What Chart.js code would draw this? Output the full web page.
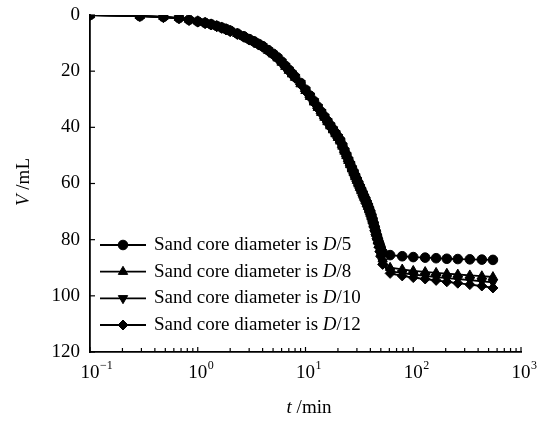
<!DOCTYPE html>
<html>
<head>
  <meta charset="UTF-8">
  <title>V vs t</title>
  <script src="https://cdn.jsdelivr.net/npm/chart.js"></script>
  <style>
    body { margin: 0; background: #fff; }
    #wrap { width: 543px; height: 424px; position: relative; }
  </style>
</head>
<body>
  <div id="wrap"><canvas id="chart"></canvas></div>
  <script>
    // tiempos de medida (min)
    const timeMin = [0.1, 0.29, 0.48, 0.67, 0.83, 1.0, 1.17, 1.33, 1.5, 1.67, 1.83, 2.0, 2.33, 2.67, 3.0, 3.33, 3.67, 4.0, 4.5, 5.0, 5.5, 6.0, 6.5, 7.0, 7.5, 8.0,
      9, 10, 11, 12, 13, 14, 15, 16, 17, 18, 19, 20, 21, 22, 23, 24, 25, 26, 27, 28, 29, 30, 31, 32, 33, 34, 35, 36, 37, 38, 39, 40, 41, 42, 43, 44, 45, 46, 47, 48, 49, 50, 52,
      61, 79, 100, 129, 163, 205, 259, 335, 433, 549];

    // volumen (mL) para cada diametro
    const volD5 = [0, 0.4, 0.7, 1.1, 1.7, 2.3, 2.8, 3.3, 3.9, 4.5, 5.0, 5.6, 6.6, 7.6, 8.6, 9.4, 10.3, 11.1, 12.5, 13.8, 15.1, 16.6, 18.1, 19.5, 20.8, 22.0,
      24.2, 26.6, 28.7, 30.7, 32.7, 34.5, 36.2, 37.8, 39.3, 40.7, 42.1, 43.4, 44.6, 46.4, 48.2, 49.8, 51.5, 53.0, 54.5, 55.9, 57.3, 58.6, 59.9, 61.1, 62.3, 63.4, 64.6, 65.6, 66.7, 67.8, 69.0, 70.2, 71.5, 72.9, 74.3, 75.7, 77.1, 78.5, 79.8, 81.0, 82.0, 83.0, 84.5,
      85.5, 85.9, 86.2, 86.4, 86.6, 86.8, 86.9, 87.0, 87.1, 87.2];
    const volD8 = [0, 0.3, 0.6, 1.0, 1.6, 2.2, 2.7, 3.3, 3.9, 4.4, 5.0, 5.6, 6.7, 7.7, 8.7, 9.6, 10.5, 11.3, 12.7, 14.0, 15.4, 16.9, 18.4, 19.8, 21.1, 22.3,
      24.6, 27.0, 29.1, 31.1, 33.0, 34.8, 36.5, 38.1, 39.6, 41.0, 42.4, 43.7, 45.0, 46.8, 48.6, 50.2, 51.9, 53.4, 54.9, 56.3, 57.7, 59.0, 60.3, 61.5, 62.7, 63.9, 65.0, 66.1, 67.2, 68.3, 69.5, 70.7, 72.0, 73.4, 74.8, 76.3, 77.8, 79.2, 80.6, 81.9, 83.3, 84.7, 87.0,
      90.0, 90.6, 91.1, 91.5, 91.8, 92.1, 92.4, 92.7, 93.0, 93.3];
    const volD10 = [0, 0.4, 0.8, 1.2, 1.8, 2.4, 2.9, 3.4, 4.0, 4.6, 5.1, 5.7, 6.7, 7.7, 8.6, 9.5, 10.4, 11.2, 12.6, 13.9, 15.2, 16.7, 18.2, 19.6, 20.9, 22.1,
      24.3, 26.7, 28.8, 30.8, 32.8, 34.6, 36.3, 37.9, 39.4, 40.8, 42.2, 43.5, 44.8, 46.6, 48.4, 50.0, 51.7, 53.2, 54.7, 56.1, 57.5, 58.8, 60.1, 61.3, 62.5, 63.7, 64.8, 65.9, 67.0, 68.1, 69.3, 70.5, 71.8, 73.2, 74.7, 76.2, 77.7, 79.2, 80.6, 82.0, 83.5, 85.0, 88.0,
      91.2, 91.9, 92.4, 92.9, 93.3, 93.7, 94.0, 94.4, 94.8, 95.2];
    const volD12 = [0, 0.4, 0.8, 1.2, 1.9, 2.5, 3.0, 3.5, 4.1, 4.7, 5.3, 5.9, 6.9, 7.9, 8.9, 9.8, 10.7, 11.5, 12.9, 14.2, 15.6, 17.1, 18.6, 20.0, 21.3, 22.5,
      24.8, 27.2, 29.3, 31.3, 33.3, 35.1, 36.8, 38.4, 39.9, 41.3, 42.7, 44.0, 45.3, 47.1, 48.9, 50.5, 52.2, 53.7, 55.2, 56.6, 58.0, 59.3, 60.6, 61.8, 63.0, 64.2, 65.3, 66.4, 67.5, 68.6, 69.8, 71.0, 72.3, 73.7, 75.2, 76.7, 78.2, 79.7, 81.2, 82.7, 84.3, 86.0, 88.8,
      92.0, 92.9, 93.5, 94.0, 94.5, 95.0, 95.5, 96.0, 96.5, 97.2];

    const legendNames = ["5", "8", "10", "12"];
    const xTickValues = [0.1, 1, 10, 100, 1000];
    const xTickExponents = ["\u22121", "0", "1", "2", "3"];
    const minorSteps = [2, 3, 4, 5, 6, 7, 8, 9];

    const serif = "'Liberation Serif', 'Times New Roman', serif";
    const fs = 19;
    const series = [volD5, volD8, volD10, volD12];
    const estilos = [
      { pointStyle: "circle", rotation: 0, radius: 4.8 },
      { pointStyle: "triangle", rotation: 0, radius: 5.4 },
      { pointStyle: "triangle", rotation: 180, radius: 5.4 },
      { pointStyle: "rectRot", rotation: 0, radius: 5 }
    ];

    const datasets = series.map((vals, k) => ({
      label: "Sand core diameter is D/" + legendNames[k],
      data: timeMin.map((t, i) => ({ x: t, y: vals[i] })),
      borderColor: "#000",
      backgroundColor: "#000",
      borderWidth: 1.8,
      pointStyle: estilos[k].pointStyle,
      rotation: estilos[k].rotation,
      pointRadius: estilos[k].radius,
      pointBorderWidth: 1,
      pointBackgroundColor: "#000",
      pointBorderColor: "#000",
      tension: 0
    }));

    function punto(ctx, est, x, y) {
      ctx.save();
      ctx.fillStyle = "#000";
      ctx.strokeStyle = "#000";
      ctx.lineWidth = 1;
      Chart.helpers.drawPoint(ctx, { pointStyle: est.pointStyle, rotation: est.rotation, radius: est.radius, borderWidth: 1 }, x, y);
      ctx.restore();
    }

    // etiquetas, marcas hacia dentro, titulos y leyenda
    const extras = {
      id: "extras",
      afterDraw(chart) {
        const ctx = chart.ctx;
        const xs = chart.scales.x, ys = chart.scales.y;
        const area = chart.chartArea;
        ctx.save();
        ctx.strokeStyle = "#000";
        ctx.lineWidth = 1.2;
        // marcas eje x
        xTickValues.forEach((v, i) => {
          const px = xs.getPixelForValue(v);
          ctx.beginPath(); ctx.moveTo(px, area.bottom); ctx.lineTo(px, area.bottom - 5); ctx.stroke();
          if (i < xTickValues.length - 1) {
            minorSteps.forEach(m => {
              const mx = xs.getPixelForValue(v * m);
              ctx.beginPath(); ctx.moveTo(mx, area.bottom); ctx.lineTo(mx, area.bottom - 4); ctx.stroke();
            });
          }
        });
        // marcas eje y
        ys.ticks.forEach(t => {
          const py = ys.getPixelForValue(t.value);
          ctx.beginPath(); ctx.moveTo(area.left, py); ctx.lineTo(area.left + 5, py); ctx.stroke();
        });
        // etiquetas eje x
        ctx.fillStyle = "#000";
        ctx.textBaseline = "middle";
        xTickValues.forEach((v, i) => {
          const px = xs.getPixelForValue(v);
          ctx.font = fs + "px " + serif;
          ctx.textAlign = "center";
          ctx.fillText("10", px, 373);
          const w = ctx.measureText("10").width;
          ctx.font = "12px " + serif;
          ctx.textAlign = "left";
          ctx.fillText(xTickExponents[i], px + w / 2 + 0.5, 366);
        });
        // titulo eje x
        ctx.font = "italic " + fs + "px " + serif;
        const tW = ctx.measureText("t").width;
        ctx.font = fs + "px " + serif;
        const restW = ctx.measureText(" /min").width;
        let sx = 309 - (tW + restW) / 2;
        ctx.textAlign = "left";
        ctx.font = "italic " + fs + "px " + serif;
        ctx.fillText("t", sx, 408);
        ctx.font = fs + "px " + serif;
        ctx.fillText(" /min", sx + tW, 408);
        // titulo eje y
        ctx.save();
        ctx.translate(24, 182);
        ctx.rotate(-Math.PI / 2);
        ctx.font = "italic " + fs + "px " + serif;
        const vW = ctx.measureText("V").width;
        ctx.font = fs + "px " + serif;
        const mlW = ctx.measureText(" /mL").width;
        sx = -(vW + mlW) / 2;
        ctx.font = "italic " + fs + "px " + serif;
        ctx.fillText("V", sx, 0);
        ctx.font = fs + "px " + serif;
        ctx.fillText(" /mL", sx + vW, 0);
        ctx.restore();
        // leyenda
        const rows = [245, 271.7, 298.3, 325];
        rows.forEach((ry, k) => {
          ctx.lineWidth = 1.8;
          ctx.beginPath(); ctx.moveTo(100, ry); ctx.lineTo(146, ry); ctx.stroke();
          punto(ctx, estilos[k], 123, ry);
          ctx.fillStyle = "#000";
          ctx.textAlign = "left";
          ctx.font = fs + "px " + serif;
          const pre = "Sand core diameter is ";
          ctx.fillText(pre, 154, ry);
          let cx = 154 + ctx.measureText(pre).width;
          ctx.font = "italic " + fs + "px " + serif;
          ctx.fillText("D", cx, ry);
          cx += ctx.measureText("D").width;
          ctx.font = fs + "px " + serif;
          ctx.fillText("/" + legendNames[k], cx, ry);
        });
        ctx.restore();
      }
    };

    new Chart(document.getElementById("chart"), {
      type: "line",
      data: { datasets: datasets },
      options: {
        responsive: true,
        maintainAspectRatio: false,
        animation: false,
        layout: { padding: { top: 15, right: 22, left: 0, bottom: 0 } },
        plugins: { legend: { display: false }, tooltip: { enabled: false } },
        scales: {
          x: {
            type: "logarithmic",
            min: 0.1,
            max: 1000,
            afterFit: s => { s.height = 72; s.paddingLeft = 0; s.paddingRight = 0; },
            ticks: { display: false },
            grid: { drawOnChartArea: false, drawTicks: false },
            border: { color: "#000", width: 1.8 }
          },
          y: {
            reverse: true,
            min: 0,
            max: 120,
            afterFit: s => { s.width = 90; s.paddingTop = 0; s.paddingBottom = 0; },
            ticks: { stepSize: 20, color: "#000", padding: 10, font: { family: serif, size: fs } },
            grid: { drawOnChartArea: false, drawTicks: false },
            border: { color: "#000", width: 1.8 }
          }
        }
      },
      plugins: [extras]
    });
  </script>
</body>
</html>
